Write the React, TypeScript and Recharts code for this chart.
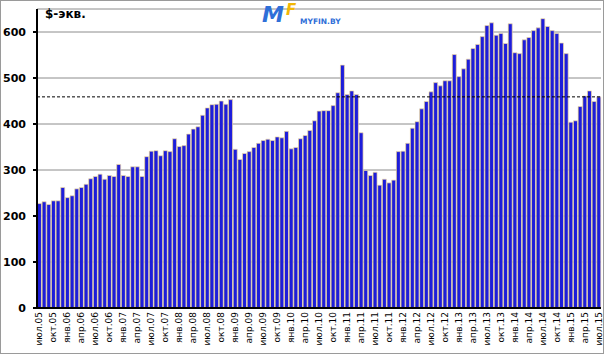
import { BarChart, Bar, XAxis, YAxis, CartesianGrid, ReferenceLine } from "recharts";

// monthly values, $-equivalent, July 2005 .. July 2015
const y2005 = [227, 231, 225, 233, 233, 262];
const y2006 = [240, 244, 259, 262, 269, 281, 286, 291, 280, 288, 286, 312];
const y2007 = [288, 286, 307, 307, 286, 329, 341, 342, 331, 342, 340, 368];
const y2008 = [351, 353, 378, 389, 394, 419, 435, 442, 443, 450, 443, 453];
const y2009 = [345, 323, 336, 340, 349, 358, 364, 367, 364, 372, 370, 384];
const y2010 = [346, 349, 368, 375, 386, 407, 428, 429, 429, 440, 468, 528];
const y2011 = [464, 472, 464, 381, 299, 288, 295, 267, 280, 272, 278, 340];
const y2012 = [341, 358, 391, 405, 433, 449, 470, 490, 483, 494, 494, 551];
const y2013 = [503, 520, 541, 564, 573, 590, 614, 620, 593, 597, 575, 618];
const y2014 = [555, 553, 583, 588, 603, 609, 629, 612, 603, 597, 576, 553];
const y2015 = [404, 407, 438, 461, 472, 449, 459];

const monthNames = ["янв", "фев", "мар", "апр", "май", "июн", "июл", "авг", "сен", "окт", "ноя", "дек"];
const yTicks = [0, 100, 200, 300, 400, 500, 600];
const currentLevel = 459;

const values = [
  ...y2005, ...y2006, ...y2007, ...y2008, ...y2009, ...y2010,
  ...y2011, ...y2012, ...y2013, ...y2014, ...y2015,
];

const data = values.map((v, i) => {
  const n = 6 + i; // starts at июл.05
  const year = 2005 + Math.floor(n / 12);
  return { month: `${monthNames[n % 12]}.${String(year).slice(2)}`, value: v };
});

function MonthTick({ x, y, payload }: { x?: number; y?: number; payload?: { value: string } }) {
  return (
    <text
      x={x}
      y={y}
      transform={`rotate(-90 ${x} ${y})`}
      textAnchor="end"
      dominantBaseline="central"
      fontSize={9}
      fontFamily="DejaVu Sans"
      fill="#000"
    >
      {payload?.value}
    </text>
  );
}

export default function App() {
  return (
    <div style={{ position: "absolute", left: 0, top: 0, width: 604, height: 354, background: "#fff" }}>
      <svg width={0} height={0} style={{ position: "absolute" }}>
        <defs>
          <linearGradient id="barFill" x1="0" y1="0" x2="1" y2="0">
            <stop offset="0%" stopColor="#181888" />
            <stop offset="22%" stopColor="#1c1cd6" />
            <stop offset="100%" stopColor="#2020e2" />
          </linearGradient>
        </defs>
      </svg>
      <BarChart
        width={604}
        height={354}
        data={data}
        margin={{ top: 9, right: 3, bottom: 6, left: 0 }}
        barCategoryGap="10%"
      >
        <CartesianGrid vertical={false} stroke="#8c8c8c" strokeWidth={1} />
        <XAxis
          dataKey="month"
          interval={2}
          height={40}
          tickLine={false}
          tickSize={0}
          tickMargin={4}
          axisLine={{ stroke: "#000", strokeWidth: 2 }}
          tick={<MonthTick />}
        />
        <YAxis
          width={37}
          domain={[0, 650]}
          ticks={yTicks}
          tickSize={4}
          tickMargin={7}
          axisLine={{ stroke: "#000", strokeWidth: 2 }}
          tickLine={{ stroke: "#000", strokeWidth: 2 }}
          tick={{ fontSize: 11, fontWeight: "bold", fill: "#000", fontFamily: "DejaVu Sans" }}
        />
        <Bar
          dataKey="value"
          fill="url(#barFill)"
          stroke="#f3dca6"
          strokeWidth={0.7}
          isAnimationActive={false}
        />
        <ReferenceLine y={currentLevel} stroke="#000" strokeDasharray="3 2" strokeWidth={1} />
      </BarChart>
      <svg width={604} height={354} style={{ position: "absolute", left: 0, top: 0, pointerEvents: "none" }}>
        <text x={45} y={18} fontSize={12} fontWeight="bold" fontFamily="DejaVu Sans" fill="#000">
          $-экв.
        </text>
        <text x={262} y={22} fontSize={22} fontWeight="bold" fontStyle="italic" fontFamily="DejaVu Sans" fill="#2f6fd8">
          M
        </text>
        <text x={286} y={15} fontSize={15} fontWeight="bold" fontStyle="italic" fontFamily="DejaVu Sans" fill="#f2b705">
          F
        </text>
        <text x={300} y={24} fontSize={7.5} fontWeight="bold" fontFamily="DejaVu Sans" fill="#2f6fd8">
          MYFIN.BY
        </text>
        <rect x={0.5} y={0.5} width={603} height={353} fill="none" stroke="#9a9a9a" strokeWidth={1} />
      </svg>
    </div>
  );
}
